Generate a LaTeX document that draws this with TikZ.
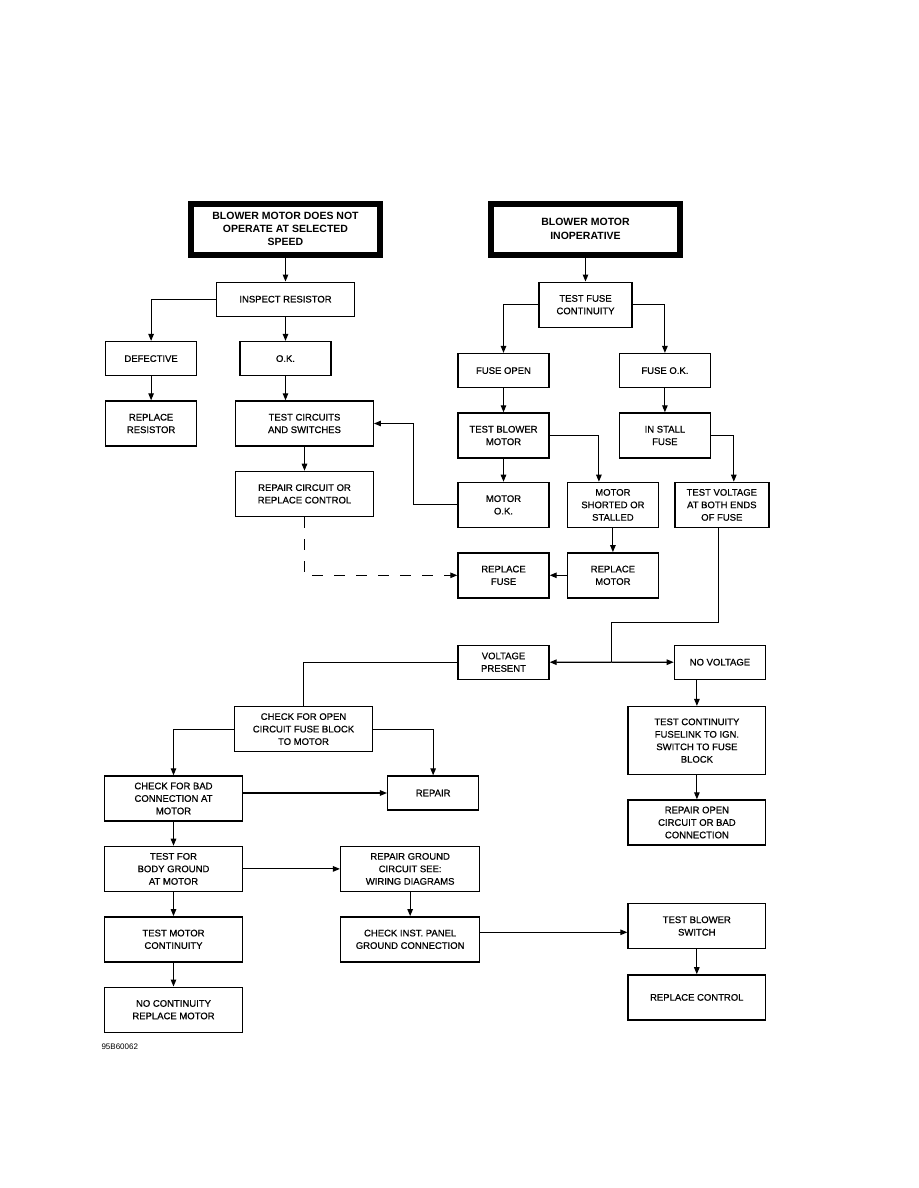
\documentclass[tikz,border=0pt]{standalone}
\usepackage{fontspec}
\setmainfont{Liberation Sans}
\newfontfamily\boxfont{Liberation Sans}[FakeBold=0.7]
\usetikzlibrary{arrows.meta, positioning, calc}

\begin{document}
\begin{tikzpicture}[
    node distance=24pt and 20pt,
    box/.style={draw, line width=1.4pt, align=center,
                font=\boxfont\fontsize{9.5}{12.5}\selectfont,
                inner sep=2pt, minimum width=91pt, minimum height=45pt},
    wide/.style={box, minimum width=137.5pt},
    low/.style={minimum height=34pt},
    head/.style={draw, line width=6pt, align=center,
                 font=\bfseries\fontsize{10.5}{13.3}\selectfont,
                 minimum width=189pt, minimum height=51pt},
    link/.style={line width=1.1pt},
    >={Triangle[length=7pt, width=5.5pt]}]
  \useasboundingbox (0,0) rectangle (918pt,-1188pt);

  % selected speed branch
  \node[head] (speed) at (285.5pt,-229pt)
    {BLOWER MOTOR DOES NOT\\OPERATE AT SELECTED\\SPEED};
  \node[wide, low, below=24pt of speed] (insp) {INSPECT RESISTOR};
  \node[box, low, below=24pt of insp] (ok) {O.K.};
  \node[box, low, left=42pt of ok] (defect) {DEFECTIVE};
  \node[box, below=24pt of defect] (repres) {REPLACE\\RESISTOR};
  \node[wide, below=24pt of ok, xshift=19pt] (testc) {TEST CIRCUITS\\AND SWITCHES};
  \node[wide, below=24pt of testc] (repc) {REPAIR CIRCUIT OR\\REPLACE CONTROL};

  % inoperative branch
  \node[head, right=105pt of speed] (inop) {BLOWER MOTOR\\INOPERATIVE};
  \node[box, minimum width=93pt, below=24pt of inop] (tfc) {TEST FUSE\\CONTINUITY};
  \node[box, low, below=25pt of tfc, xshift=-82pt] (fopen) {FUSE OPEN};
  \node[box, low, right=69pt of fopen] (fok) {FUSE O.K.};
  \node[box, below=24pt of fopen] (tbm) {TEST BLOWER\\MOTOR};
  \node[box, below=24pt of fok] (inst) {IN STALL\\FUSE};
  \node[box, below=23pt of tbm] (mok) {MOTOR\\O.K.};
  \node[box, right=17pt of mok] (mshort) {MOTOR\\SHORTED OR\\STALLED};
  \node[box, minimum width=94pt, right=15pt of mshort] (tvolt)
    {TEST VOLTAGE\\AT BOTH ENDS\\OF FUSE};
  \node[box, below=24pt of mok] (repfuse) {REPLACE\\FUSE};
  \node[box, below=24pt of mshort] (repmot) {REPLACE\\MOTOR};

  % voltage check
  \node[box, low, below=46pt of repfuse] (vpres) {VOLTAGE\\PRESENT};
  \node[box, low, right=124pt of vpres] (novolt) {NO VOLTAGE};
  \node[wide, minimum height=68pt, below=26pt of novolt, xshift=-23pt] (tcont)
    {TEST CONTINUITY\\FUSELINK TO IGN.\\SWITCH TO FUSE\\BLOCK};
  \node[wide, below=24pt of tcont] (repopen) {REPAIR OPEN\\CIRCUIT OR BAD\\CONNECTION};
  \node[wide, below=26pt of vpres, xshift=-200pt] (chopen)
    {CHECK FOR OPEN\\CIRCUIT FUSE BLOCK\\TO MOTOR};
  \node[wide, below=23pt of chopen, xshift=-130pt] (chbad)
    {CHECK FOR BAD\\CONNECTION AT\\MOTOR};
  \node[box, low, right=144pt of chbad, yshift=5.5pt] (repair) {REPAIR};
  \node[wide, below=24pt of chbad] (body) {TEST FOR\\BODY GROUND\\AT MOTOR};
  \node[wide, minimum width=139pt, right=97pt of body] (repgnd)
    {REPAIR GROUND\\CIRCUIT SEE:\\WIRING DIAGRAMS};
  \node[wide, below=24pt of body] (tmc) {TEST MOTOR\\CONTINUITY};
  \node[wide, below=24pt of tmc] (nocont) {NO CONTINUITY\\REPLACE MOTOR};
  \node[wide, minimum width=139pt, below=24pt of repgnd] (instp)
    {CHECK INST. PANEL\\GROUND CONNECTION};
  \node[wide, right=147pt of instp, yshift=13.3pt] (tbs) {TEST BLOWER\\SWITCH};
  \node[wide, below=25pt of tbs] (repctl) {REPLACE CONTROL};
  \node[anchor=west, font=\fontsize{8}{9}\selectfont] (fig) at (98pt,-1047pt) {95B60062};

  % connectors
  \draw[link, ->] (speed) -- (insp);
  \draw[link, ->] (insp.west) -| (defect);
  \draw[link, ->] (insp) -- (ok);
  \draw[link, ->] (defect) -- (repres);
  \draw[link, ->] (ok) -- (ok |- testc.north);
  \draw[link, ->] (testc) -- (repc);
  \draw[link, ->] (mok.west) -- ++(-44pt,0) |- (testc);
  \draw[link, ->, dash pattern=on 11pt off 11pt] (repc) |- (repfuse);

  \draw[link, ->] (inop) -- (tfc);
  \draw[link, ->] (tfc.west) -| (fopen);
  \draw[link, ->] (tfc.east) -| (fok);
  \draw[link, ->] (fopen) -- (tbm);
  \draw[link, ->] (fok) -- (inst);
  \draw[link, ->] (tbm) -- (mok);
  \draw[link, ->] (tbm.east) -| ([xshift=-14pt]mshort.north);
  \draw[link, ->] (inst.east) -| ([xshift=12pt]tvolt.north);
  \draw[link, ->] (mshort) -- (repmot);
  \draw[link, ->] (repmot) -- (repfuse);

  \coordinate (split) at ($(vpres.east)!0.5!(novolt.west)$);
  \draw[link] ([xshift=-3pt]tvolt.south) -- ++(0,-94pt) -| (split);
  \draw[link, ->] (split) -- (vpres);
  \draw[link, ->] (split) -- (novolt);
  \draw[link, ->] (novolt.south -| tcont) -- (tcont);
  \draw[link, ->] (tcont) -- (repopen);

  \draw[link] (vpres.west) -| (chopen);
  \draw[link, ->] (chopen.west) -| (chbad);
  \draw[link, ->] (chopen.east) -| (repair);
  \draw[link, ->] (chbad.east |- repair) -- (repair);
  \draw[link, ->] (chbad) -- (body);
  \draw[link, ->] (body) -- (repgnd);
  \draw[link, ->] (body) -- (tmc);
  \draw[link, ->] (tmc) -- (nocont);
  \draw[link, ->] (repgnd) -- (instp);
  \draw[link, ->] ([yshift=7pt]instp.east) -- ([yshift=7pt]instp.east -| tbs.west);
  \draw[link, ->] (tbs) -- (repctl);
\end{tikzpicture}
\end{document}
